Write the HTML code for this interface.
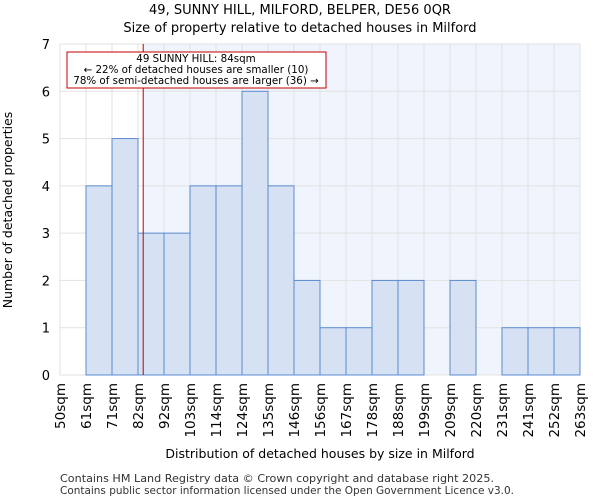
<!DOCTYPE html>
<html><head><meta charset="utf-8"><style>
body{margin:0;background:#fff;font-family:"DejaVu Sans","Liberation Sans",sans-serif;}
</style></head><body>
<svg id="chart" width="600" height="500" xmlns="http://www.w3.org/2000/svg" font-family="DejaVu Sans, Liberation Sans, sans-serif">
<text x="300" y="14" text-anchor="middle" font-size="13">49, SUNNY HILL, MILFORD, BELPER, DE56 0QR</text>
<text x="300" y="32" text-anchor="middle" font-size="13">Size of property relative to detached houses in Milford</text>
<g id="plot"></g>
<text x="320" y="458" text-anchor="middle" font-size="12.5">Distribution of detached houses by size in Milford</text>
<text x="12" y="210" text-anchor="middle" font-size="12.5" transform="rotate(-90 12 210)">Number of detached properties</text>
<text x="60" y="482" font-size="11" fill="#333" textLength="434" lengthAdjust="spacingAndGlyphs">Contains HM Land Registry data © Crown copyright and database right 2025.</text>
<text x="60" y="494" font-size="11" fill="#333" textLength="454" lengthAdjust="spacingAndGlyphs">Contains public sector information licensed under the Open Government Licence v3.0.</text>
</svg>
<script>
const categories=["50sqm","61sqm","71sqm","82sqm","92sqm","103sqm","114sqm","124sqm","135sqm","146sqm","156sqm","167sqm","178sqm","188sqm","199sqm","209sqm","220sqm","231sqm","241sqm","252sqm","263sqm"];
const counts=[0,4,5,3,3,4,4,6,4,2,1,1,2,2,0,2,0,1,1,1];
const yTicks=[0,1,2,3,4,5,6,7];
const binStarts=[50,61,71,82,92,103,114,124,135,146,156,167,178,188,199,209,220,231,241,252,263];
const markerValue=84;
const NS="http://www.w3.org/2000/svg";
const L=60,R=580,T=44,B=375;
const bw=(R-L)/counts.length;
const y=v=>B-(B-T)*v/7;
const xi=i=>L+i*bw;
function xv(v){for(let i=0;i<binStarts.length-1;i++){if(v<=binStarts[i+1])return xi(i)+bw*(v-binStarts[i])/(binStarts[i+1]-binStarts[i]);}return R;}
const g=document.getElementById('plot');
function mk(t,a){const e=document.createElementNS(NS,t);for(const k in a)e.setAttribute(k,a[k]);g.appendChild(e);return e;}
const mx=xv(markerValue);
let e=mk('rect',{x:mx,y:T,width:R-mx,height:B-T,fill:'#f0f4fc'});


yTicks.forEach(t=>{const l=mk('line',{x1:L,x2:R,y1:y(t),y2:y(t),stroke:'#e2e2e2'});


const tx=mk('text',{x:L-10,y:y(t)+5,'text-anchor':'end','font-size':13});tx.textContent=t;

});
categories.forEach((c,i)=>{const l=mk('line',{x1:xi(i),x2:xi(i),y1:T,y2:B,stroke:'#e2e2e2'});


const x=xi(i)+5;const tx=mk('text',{x:x,y:B+8,'text-anchor':'end','font-size':13.5,transform:`rotate(-90 ${x} ${B+8})`});tx.textContent=c;

});
counts.forEach((v,i)=>{if(!v)return;const r=mk('rect',{x:xi(i),y:y(v),width:bw,height:B-y(v),fill:'#d6e2f3',stroke:'#5b8bd0','stroke-width':1});

});
e=mk('line',{x1:mx,x2:mx,y1:T,y2:B,stroke:'#c00000','stroke-width':1});


e=mk('rect',{x:67,y:52,width:259,height:36,fill:'#fff',stroke:'#c00000','stroke-width':1});


[["49 SUNNY HILL: 84sqm",62],["← 22% of detached houses are smaller (10)",73],["78% of semi-detached houses are larger (36) →",84]].forEach(([s,yy])=>{const tx=mk('text',{x:196,y:yy,'text-anchor':'middle','font-size':10.3});tx.textContent=s;

});
</script>
</body></html>
